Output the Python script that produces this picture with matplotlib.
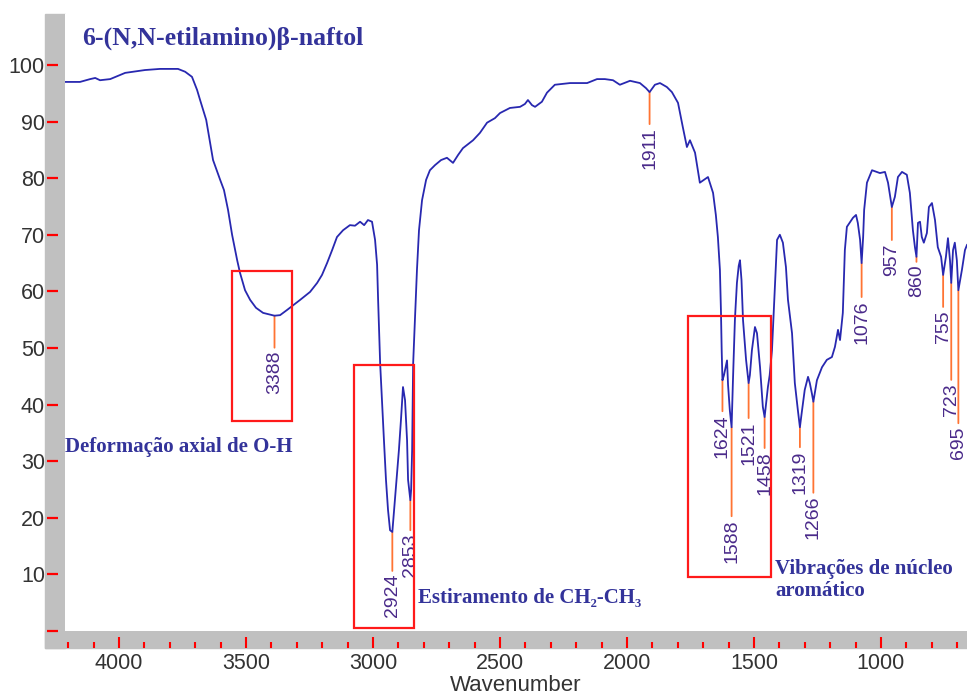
import numpy as np
import matplotlib
matplotlib.use("Agg")
import matplotlib.pyplot as plt
from matplotlib.patches import Rectangle

# ---------------- data ----------------
wavenumber = [4213, 4154, 4114, 4094, 4075, 4035, 3976, 3898, 3839, 3768,
              3740, 3713, 3693, 3681, 3657, 3630, 3602, 3587, 3571, 3555,
              3535, 3524, 3504, 3484, 3461, 3433, 3388, 3366, 3339, 3307,
              3287, 3248, 3220, 3201, 3181, 3161, 3142, 3118, 3091, 3071,
              3051, 3035, 3020, 3004, 2992, 2984, 2980, 2972, 2965, 2957,
              2949, 2941, 2933, 2924, 2917, 2909, 2898, 2890, 2882, 2874,
              2866, 2862, 2853, 2850, 2846, 2842, 2835, 2827, 2819, 2807,
              2791, 2776, 2756, 2732, 2709, 2685, 2665, 2646, 2606, 2579,
              2551, 2520, 2500, 2461, 2421, 2402, 2390, 2374, 2362, 2335,
              2315, 2284, 2224, 2185, 2157, 2118, 2087, 2055, 2028, 1988,
              1949, 1925, 1911, 1890, 1870, 1843, 1823, 1799, 1780, 1764,
              1752, 1732, 1713, 1697, 1681, 1661, 1650, 1642, 1634, 1630,
              1627, 1624, 1618, 1612, 1606, 1602, 1595, 1588, 1583, 1575,
              1567, 1560, 1555, 1549, 1543, 1531, 1521, 1516, 1508, 1496,
              1488, 1476, 1465, 1458, 1445, 1438, 1429, 1417, 1409, 1398,
              1386, 1374, 1366, 1350, 1339, 1327, 1319, 1312, 1300, 1287,
              1280, 1272, 1266, 1252, 1232, 1213, 1193, 1181, 1169, 1161,
              1150, 1142, 1134, 1110, 1098, 1091, 1082, 1076, 1070, 1066,
              1055, 1035, 1016, 1004, 984, 972, 957, 945, 933, 917,
              898, 886, 874, 866, 860, 854, 846, 839, 831, 819,
              811, 799, 787, 776, 763, 755, 744, 736, 728, 723,
              716, 709, 701, 695, 681, 669, 661]
transmittance = [97.0, 97.0, 97.5, 97.7, 97.3, 97.5, 98.6, 99.1, 99.3, 99.3,
                 98.8, 97.9, 95.6, 93.8, 90.3, 83.2, 79.7, 77.9, 74.4, 70.0,
                 65.5, 63.3, 60.2, 58.5, 57.1, 56.2, 55.7, 55.8, 56.7, 57.8,
                 58.5, 59.9, 61.5, 62.9, 65.0, 67.3, 69.6, 70.8, 71.7, 71.6,
                 72.3, 71.7, 72.6, 72.3, 69.1, 64.7, 58.5, 47.3, 40.8, 33.7,
                 26.7, 21.4, 17.8, 17.5, 21.4, 26.1, 32.0, 37.3, 43.1, 40.8,
                 33.7, 26.7, 23.1, 24.9, 32.0, 47.3, 54.9, 63.8, 70.8, 76.1,
                 79.7, 81.4, 82.3, 83.2, 83.6, 82.7, 84.1, 85.3, 86.7, 88.0,
                 89.8, 90.6, 91.5, 92.4, 92.6, 93.1, 93.8, 92.9, 92.6, 93.5,
                 95.1, 96.5, 96.8, 96.8, 96.8, 97.5, 97.5, 97.3, 96.5, 97.2,
                 96.8, 95.9, 95.2, 96.5, 96.8, 96.1, 95.2, 93.3, 89.0, 85.5,
                 86.7, 84.5, 79.2, 79.7, 80.2, 77.4, 73.5, 69.6, 63.8, 56.7,
                 49.5, 44.3, 45.2, 46.5, 47.8, 43.5, 39.0, 36.0, 43.8, 54.9,
                 61.5, 64.5, 65.5, 62.0, 54.9, 47.9, 43.8, 45.2, 49.6, 53.7,
                 52.6, 46.6, 39.6, 37.8, 43.1, 45.2, 49.6, 61.5, 69.1, 70.0,
                 68.6, 64.3, 58.5, 52.6, 43.8, 39.0, 36.0, 38.5, 42.6, 44.9,
                 43.8, 42.0, 40.5, 44.3, 46.6, 47.9, 48.4, 50.2, 53.2, 51.4,
                 56.2, 67.3, 71.4, 73.0, 73.5, 72.1, 69.1, 65.0, 69.6, 74.4,
                 79.2, 81.4, 81.1, 80.9, 81.1, 79.2, 74.9, 76.7, 80.2, 81.1,
                 80.6, 77.4, 70.8, 67.8, 66.1, 72.1, 72.3, 69.6, 68.6, 70.3,
                 74.9, 75.6, 72.6, 67.8, 66.1, 62.9, 66.1, 69.4, 65.5, 61.5,
                 67.3, 68.6, 65.5, 60.2, 63.8, 67.3, 68.2]

peak_wavenumbers = [3388, 2924, 2853, 1911, 1624, 1588, 1521, 1458, 1319,
                    1266, 1076, 957, 860, 755, 723, 695]
peak_labels = [str(p) for p in peak_wavenumbers]
# length of the orange leader line under each peak (pixels)
leader_px = [32, 39, 30, 32, 31, 89, 35, 31, 20, 91, 34, 33, 5, 32, 97, 133]

title = "6-(N,N-etilamino)β-naftol"
region_texts = ["Deformação axial de O-H",
                "Estiramento de CH₂-CH₃",
                "Vibrações de núcleo\naromático"]
# boxes: (wn_left, wn_right, T_bottom, T_top)
region_boxes = [(3555, 3319, 37.1, 63.6),
                (3075, 2839, 0.5, 47.0),
                (1760, 1433, 9.5, 55.7)]

x_major = [4000, 3500, 3000, 2500, 2000, 1500, 1000]
y_major = [10, 20, 30, 40, 50, 60, 70, 80, 90, 100]

# ---------------- style ----------------
LINE = "#2828b0"
TXT_BLUE = "#33339a"
PEAK_TXT = "#4a2a8a"
ORANGE = "#ff7433"
GRAY = "#c0c0c0"
W, H = 967, 697

plt.rcParams['font.family'] = ['Liberation Sans', 'DejaVu Sans']

fig = plt.figure(figsize=(W / 100, H / 100), dpi=100)
ax = fig.add_axes([65 / W, (H - 631) / H, 902 / W, 617 / H])
ax.set_xlim(4213, 661)
ax.set_ylim(0, 109)
for s in ax.spines.values():
    s.set_visible(False)

# gray frame bars
fig.patches.append(Rectangle((45 / W, (H - 648) / H), 20 / W, (648 - 14) / H,
                             transform=fig.transFigure, color=GRAY, zorder=-1))
fig.patches.append(Rectangle((45 / W, (H - 648) / H), (W - 45) / W, 17 / H,
                             transform=fig.transFigure, color=GRAY, zorder=-1))

# spectrum
ax.plot(wavenumber, transmittance, color=LINE, lw=1.3, zorder=3)

# ticks / labels
ax.set_xticks(x_major)
ax.set_yticks(y_major)
ax.tick_params(axis='x', length=0, pad=15.5, labelsize=15.5, labelcolor='#333333')
ax.tick_params(axis='y', length=0, pad=14.4, labelsize=15.5, labelcolor='#333333')
ax.set_xlabel("Wavenumber", fontsize=16, color='#333333', labelpad=1)

ytr = ax.get_yaxis_transform()
for v in [0] + y_major:
    ax.plot([-0.020, -0.0078], [v, v], transform=ytr, color='red', lw=1.6,
            clip_on=False, solid_capstyle='butt')
xtr = ax.get_xaxis_transform()
ax_h = 617.0
for v in range(4200, 661, -100):
    if v in x_major:
        y0, y1 = -(637 - 631) / ax_h, -(648 - 631) / ax_h
    else:
        y0, y1 = -(642 - 631) / ax_h, -(648 - 631) / ax_h
    ax.plot([v, v], [y0, y1], transform=xtr, color='red', lw=1.5,
            clip_on=False, solid_capstyle='butt')

# peak annotations
wn_arr = np.array(wavenumber, dtype=float)
t_arr = np.array(transmittance, dtype=float)
for p, lab, L in zip(peak_wavenumbers, peak_labels, leader_px):
    tp = np.interp(-p, -wn_arr, t_arr)
    ax.annotate("", xy=(p, tp), xytext=(0, -L), textcoords='offset pixels',
                arrowprops=dict(arrowstyle='-', color=ORANGE, lw=1.3,
                                shrinkA=0, shrinkB=0), zorder=2)
    ax.annotate(lab, xy=(p, tp), xytext=(0, -L - 3), textcoords='offset pixels',
                rotation=90, ha='center', va='top', fontsize=14, color=PEAK_TXT)

# region boxes
for (x0, x1, b, t) in region_boxes:
    ax.add_patch(Rectangle((x0, b), x1 - x0, t - b, fill=False,
                           edgecolor='#ff1a1a', lw=1.6, zorder=4))

serif = ['Liberation Serif', 'DejaVu Serif']
ax.text((82 - 65) / 902, (631 - 38) / 617, title, transform=ax.transAxes,
        fontsize=18.5, fontweight='bold', family=serif, color=TXT_BLUE,
        ha='left', va='center')
ax.text(0.0, (631 - 447) / 617, region_texts[0], transform=ax.transAxes,
        fontsize=15, fontweight='bold', family=serif, color=TXT_BLUE,
        ha='left', va='center')
ax.text((418 - 65) / 902, (631 - 598) / 617, region_texts[1], transform=ax.transAxes,
        fontsize=15, fontweight='bold', family=serif, color=TXT_BLUE,
        ha='left', va='center')
ax.text((775 - 65) / 902, (631 - 580) / 617, region_texts[2], transform=ax.transAxes,
        fontsize=15, fontweight='bold', family=serif, color=TXT_BLUE,
        ha='left', va='center', linespacing=1.1)

fig.savefig("out.png", dpi=100)
